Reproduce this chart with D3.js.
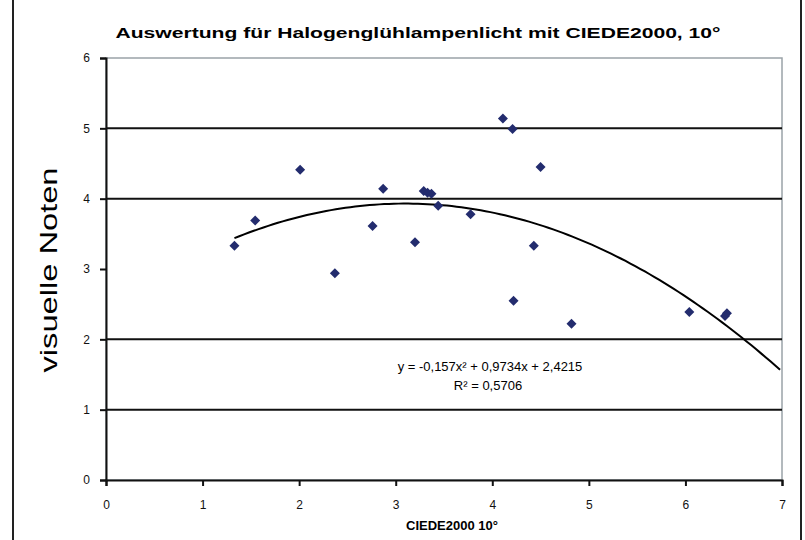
<!DOCTYPE html>
<html>
<head>
<meta charset="utf-8">
<script src="https://cdn.jsdelivr.net/npm/d3@7"></script>
<style>
  body { margin: 0; background: #fff; }
  svg { display: block; font-family: Arial, "Liberation Sans", sans-serif; }
</style>
</head>
<body>
<div id="chart"></div>
<script>
// Daten
const deltaE = [1.33, 1.545, 2.01, 2.37, 2.76, 2.87, 3.2, 3.29, 3.33, 3.37, 3.44, 3.775, 4.11, 4.21, 4.22, 4.43, 4.5, 4.82, 6.04, 6.43, 6.41];
const noten  = [3.33, 3.69, 4.41, 2.94, 3.61, 4.14, 3.38, 4.11, 4.085, 4.07, 3.9, 3.78, 5.14, 4.99, 2.55, 3.33, 4.45, 2.22, 2.39, 2.37, 2.33];
const xTicks = [0, 1, 2, 3, 4, 5, 6, 7];
const yTicks = [0, 1, 2, 3, 4, 5, 6];
const gridValues = [1, 2, 4, 5];
const trend = { a: -0.157, b: 0.9734, c: 2.4215 }; // polynomische Trendlinie
const trendText = "y = -0,157x² + 0,9734x + 2,4215";
const r2Text = "R² = 0,5706";

const breite = 805, hoehe = 540;
const svg = d3.select("#chart").append("svg")
  .attr("width", breite).attr("height", hoehe);

// äußerer Rahmen (nur links/rechts sichtbar)
svg.append("line").attr("x1", 13).attr("x2", 13).attr("y1", 0).attr("y2", hoehe)
  .attr("stroke", "#222").attr("stroke-width", 2);
svg.append("line").attr("x1", 801).attr("x2", 801).attr("y1", 0).attr("y2", hoehe)
  .attr("stroke", "#222").attr("stroke-width", 2);

const xScale = d3.scaleLinear().domain([0, 7]).range([106, 782]);
const yScale = d3.scaleLinear().domain([0, 6]).range([480, 58]);

// Plotrahmen (grau, oben/rechts)
svg.append("rect")
  .attr("x", xScale(0)).attr("y", yScale(6))
  .attr("width", xScale(7) - xScale(0)).attr("height", yScale(0) - yScale(6))
  .attr("fill", "none").attr("stroke", "#9aa3a8").attr("stroke-width", 1.5);

// Gitterlinien
svg.append("g").selectAll("line")
  .data(gridValues).enter().append("line")
  .attr("x1", xScale(0)).attr("x2", xScale(7))
  .attr("y1", d => yScale(d)).attr("y2", d => yScale(d))
  .attr("stroke", "#111").attr("stroke-width", 2);

// Achsen
const xAxisG = svg.append("g")
  .attr("transform", `translate(0,${yScale(0)})`)
  .call(d3.axisBottom(xScale).tickValues(xTicks).tickSize(6).tickPadding(14).tickFormat(d3.format("d")));
const yAxisG = svg.append("g")
  .attr("transform", `translate(${xScale(0)},0)`)
  .call(d3.axisLeft(yScale).tickValues(yTicks).tickSize(6).tickPadding(10).tickFormat(d3.format("d")));

[xAxisG, yAxisG].forEach(g => {
  g.select(".domain").attr("stroke", "#111").attr("stroke-width", 2);
  g.selectAll(".tick line").attr("stroke", "#111").attr("stroke-width", 2);
  g.selectAll("text").attr("fill", "#111").style("font-size", "12px");
});

// Trendlinie
const trendX = d3.range(d3.min(deltaE), 7.0001, 0.05);
const trendLine = d3.line()
  .x(d => xScale(d))
  .y(d => yScale(trend.a * d * d + trend.b * d + trend.c));
svg.append("path")
  .datum(trendX)
  .attr("d", trendLine)
  .attr("fill", "none").attr("stroke", "#000").attr("stroke-width", 2);

// Punkte (Rauten)
const punkte = deltaE.map((x, i) => ({ x: x, y: noten[i] }));
svg.append("g").selectAll("path")
  .data(punkte).enter().append("path")
  .attr("d", d3.symbol().type(d3.symbolSquare).size(50))
  .attr("transform", d => `translate(${xScale(d.x)},${yScale(d.y)}) rotate(45)`)
  .attr("fill", "#232c6e");

// Texte
svg.append("text")
  .attr("x", 418).attr("y", 38).attr("text-anchor", "middle")
  .attr("textLength", 605).attr("lengthAdjust", "spacingAndGlyphs")
  .style("font-size", "15px").style("font-weight", "bold")
  .text("Auswertung für Halogenglühlampenlicht mit CIEDE2000, 10°");

svg.append("text")
  .attr("transform", "translate(57,270) rotate(-90)")
  .attr("text-anchor", "middle")
  .attr("textLength", 205).attr("lengthAdjust", "spacingAndGlyphs")
  .style("font-size", "24px")
  .text("visuelle Noten");

svg.append("text")
  .attr("x", 452).attr("y", 530).attr("text-anchor", "middle")
  .style("font-size", "13px").style("font-weight", "bold")
  .text("CIEDE2000 10°");

svg.append("text")
  .attr("x", 490).attr("y", 371).attr("text-anchor", "middle")
  .style("font-size", "13px")
  .text(trendText);
svg.append("text")
  .attr("x", 488).attr("y", 390).attr("text-anchor", "middle")
  .style("font-size", "13px")
  .text(r2Text);
</script>
</body>
</html>
